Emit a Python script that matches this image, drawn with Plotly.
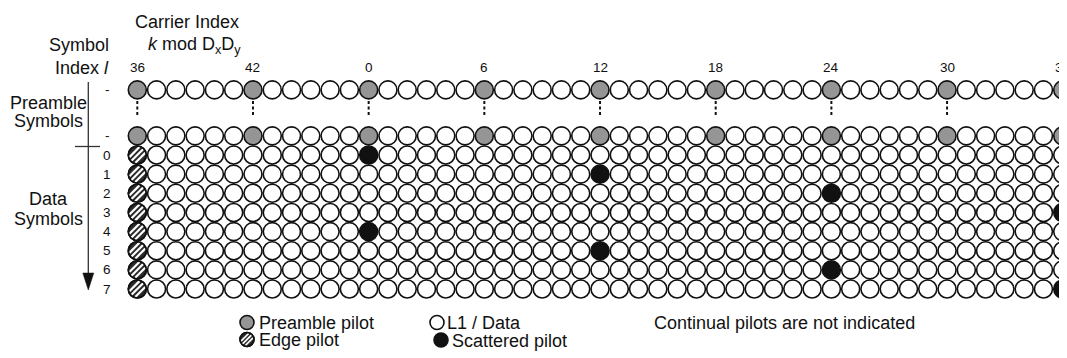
import math
import plotly.graph_objects as go

# ---------------- data ----------------
carrier_start = 36          # first carrier index shown (k mod DxDy)
dxdy = 48                   # Dx*Dy
n_carriers = 49             # number of carrier columns drawn
carrier_tick_labels = [36, 42, 0, 6, 12, 18, 24, 30, 36]
preamble_pilot_spacing = 6
preamble_rows = [-3.4, -1]          # row positions of the two preamble symbols
preamble_labels = ["-", "-"]
data_symbols = [0, 1, 2, 3, 4, 5, 6, 7]
scattered_pilot_carrier = [0, 12, 24, 36, 0, 12, 24, 36]
edge_pilot_column = 0

# ---------------- geometry (screen pixels; page body has an 8px margin) ----------------
OFF = 8
WIN_W, WIN_H = 1067, 358
W, H = WIN_W - OFF, WIN_H - OFF
X0, DX = 137.3, 19.28      # screen pixel of column 0, pixels per column
Y0, DY = 155.0, 19.15      # screen pixel of data row 0, pixels per row

FONT = "Liberation Sans, Arial, sans-serif"
INK = "#111111"
MS = 18          # grid marker size
MLW = 1.6        # outline width
GRAY = "#959595"
EDGE = "#2b2b2b"

cols = list(range(n_carriers))
carrier_of = [(carrier_start + c) % dxdy for c in cols]

# classify cells
data_x, data_y = [], []
pre_x, pre_y = [], []
sc_x, sc_y = [], []
edge_x, edge_y = [], []
for r in preamble_rows:
    for c in cols:
        if c % preamble_pilot_spacing == 0:
            pre_x.append(c); pre_y.append(r)
        else:
            data_x.append(c); data_y.append(r)
for l in data_symbols:
    for c in cols:
        if c == edge_pilot_column:
            edge_x.append(c); edge_y.append(l)
        elif carrier_of[c] == scattered_pilot_carrier[l]:
            sc_x.append(c); sc_y.append(l)
        else:
            data_x.append(c); data_y.append(l)

fig = go.Figure()

def circ(x, y, fill, size=MS, xa="x", ya="y"):
    fig.add_trace(go.Scatter(
        x=x, y=y, mode="markers", xaxis=xa, yaxis=ya, hoverinfo="skip",
        cliponaxis=False,
        marker=dict(symbol="circle", size=size, color=fill,
                    line=dict(color=INK, width=MLW)),
        showlegend=False))

def stripes(x, y, size, sx, sy, xa="x", ya="y"):
    R = size / 2 - 0.8
    for p in (-0.5 * R, 0.0, 0.5 * R):
        L = math.sqrt(max(R * R - p * p, 0))
        d = p / math.sqrt(2)
        fig.add_trace(go.Scatter(
            x=[v + d / sx for v in x], y=[v + d / sy for v in y],
            mode="markers", xaxis=xa, yaxis=ya, hoverinfo="skip",
            marker=dict(symbol="line-ne", size=math.sqrt(2) * L,
                        color="white", line=dict(color="white", width=size * 0.12)),
            showlegend=False))
    fig.add_trace(go.Scatter(
        x=x, y=y, mode="markers", xaxis=xa, yaxis=ya, hoverinfo="skip",
        marker=dict(symbol="circle-open", size=size, color=INK,
                    line=dict(color=INK, width=MLW)),
        showlegend=False))

# grid cells
circ(data_x, data_y, "white")
circ(pre_x, pre_y, GRAY)
circ(sc_x, sc_y, INK)
circ(edge_x, edge_y, EDGE)
stripes(edge_x, edge_y, MS, DX, DY)

# dotted connectors between the preamble symbols
dot_x, dot_y = [], []
for c in cols:
    if c % preamble_pilot_spacing == 0:
        dot_x += [c, c, None]
        dot_y += [preamble_rows[0] + 0.58, preamble_rows[1] - 0.98, None]
fig.add_trace(go.Scatter(x=dot_x, y=dot_y, mode="lines", hoverinfo="skip",
                         line=dict(color=INK, width=2, dash="3px,2.5px"),
                         showlegend=False))

# ---------------- legend swatches (screen-pixel overlay axes) ----------------
LS = 14
circ([247], [322.5], GRAY, LS, "x2", "y2")
circ([247], [339.5], EDGE, LS, "x2", "y2")
stripes([247], [339.5], LS, 1, 1, "x2", "y2")
circ([437], [322.5], "white", LS, "x2", "y2")
circ([441], [340], INK, LS, "x2", "y2")

ann = []
def txt(text, x, y, size=18, xanchor="center", xref="x2", yref="y2"):
    ann.append(dict(text=text, x=x, y=y, xref=xref, yref=yref, showarrow=False,
                    xanchor=xanchor, yanchor="middle",
                    font=dict(family=FONT, size=size, color=INK)))

txt("Carrier Index", 187, 22)
txt("Symbol", 111, 45, xanchor="right")
txt("<i>k</i> mod D<sub>x</sub>D<sub>y</sub>", 146, 45, xanchor="left")
txt("Index <i>l</i>", 111, 68, xanchor="right")
txt("Preamble", 48, 103)
txt("Symbols", 48, 121)
txt("Data", 48, 199)
txt("Symbols", 48, 219)

# carrier tick labels
for i, lab in enumerate(carrier_tick_labels):
    txt(str(lab), i * preamble_pilot_spacing, 67.5, size=13.5, xref="x")
# symbol index labels
for r, lab in zip(preamble_rows, preamble_labels):
    txt(lab, 107, r, size=13.5, yref="y")
for l in data_symbols:
    txt(str(l), 107, l, size=13.5, yref="y")

# legend texts
txt("Preamble pilot", 257, 322.5, xanchor="left")
txt("Edge pilot", 257, 340, xanchor="left")
txt("L1 / Data", 445, 322.5, xanchor="left")
txt("Scattered pilot", 450, 341, xanchor="left")
txt("Continual pilots are not indicated", 652, 322.5, xanchor="left")

# symbol-index axis with arrow
shapes = [
    dict(type="line", xref="x2", yref="y2", x0=88.3, x1=88.3, y0=82, y1=276,
         line=dict(color="#333333", width=1.3)),
    dict(type="line", xref="x2", yref="y2", x0=75, x1=100, y0=146.5, y1=146.5,
         line=dict(color="#333333", width=1.3)),
    dict(type="path", xref="x2", yref="y2",
         path="M 82.8 273 L 93.8 273 L 88.3 290 Z",
         fillcolor="#111111", line=dict(color="#111111", width=0.5)),
]

fig.update_layout(
    width=W, height=H, margin=dict(l=0, r=0, t=0, b=0),
    paper_bgcolor="white", plot_bgcolor="white",
    xaxis=dict(range=[(OFF - X0) / DX, (WIN_W - X0) / DX], visible=False, fixedrange=True),
    yaxis=dict(range=[(WIN_H - Y0) / DY, (OFF - Y0) / DY], visible=False, fixedrange=True),
    xaxis2=dict(range=[OFF, WIN_W], overlaying="x", visible=False, fixedrange=True),
    yaxis2=dict(range=[WIN_H, OFF], overlaying="y", visible=False, fixedrange=True),
    annotations=ann, shapes=shapes, showlegend=False,
)

fig.write_html("out.html")
